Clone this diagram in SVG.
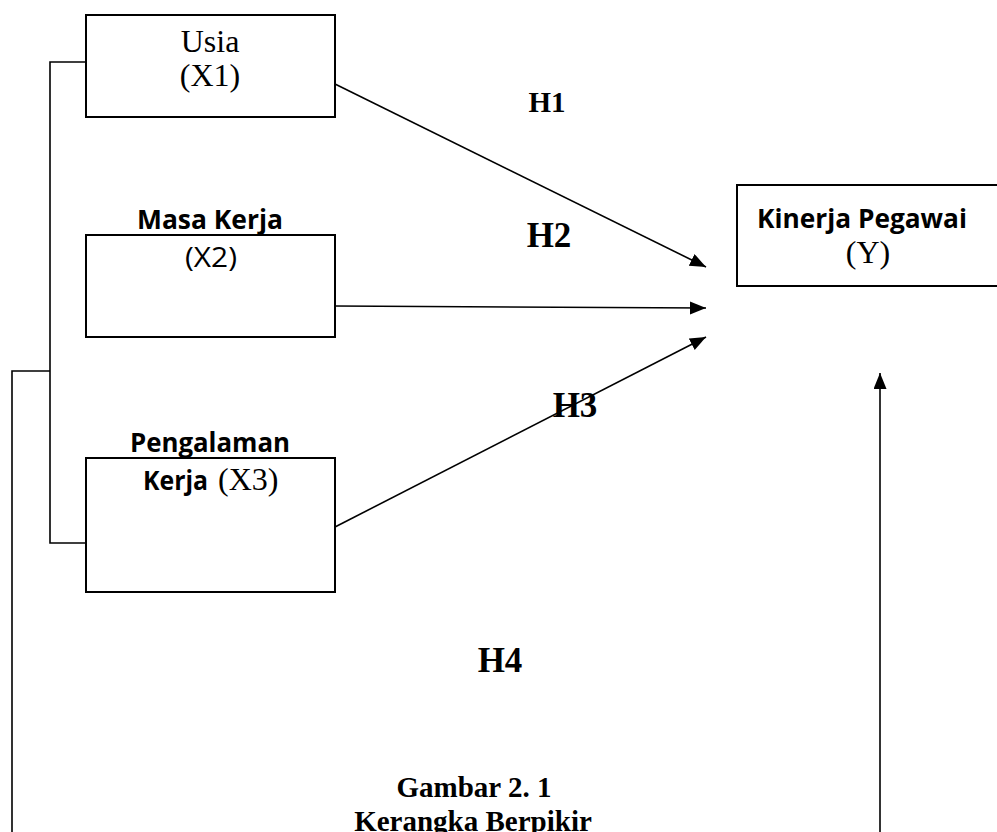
<svg xmlns="http://www.w3.org/2000/svg" width="997" height="832" viewBox="0 0 997 832">
<style>
.box{fill:#fff;stroke:#000;stroke-width:2}
.ln{fill:none;stroke:#000;stroke-width:1.6}
.serif{font-family:"Liberation Serif","Times New Roman",serif;fill:#000}
.sans{font-family:"Open Sans","Noto Sans",sans-serif;fill:#000}
.b{font-weight:bold}
.h{font-family:"Liberation Serif","Times New Roman",serif;font-weight:bold;fill:#000;text-anchor:middle}
</style>
<defs>
<marker id="ah" markerUnits="userSpaceOnUse" markerWidth="18" markerHeight="14" refX="16" refY="6.5" orient="auto">
<path d="M0,0 L16,6.5 L0,13 z" fill="#000"/>
</marker>
</defs>
<rect width="997" height="832" fill="#fff"/>
<g id="connectors">
<polyline class="ln" points="86,62 50,62 50,543 86,543"/>
<polyline class="ln" points="50,371 12,371 12,832"/>
<line class="ln" x1="335" y1="84" x2="706" y2="267" marker-end="url(#ah)"/>
<line class="ln" x1="335" y1="306" x2="706" y2="308" marker-end="url(#ah)"/>
<line class="ln" x1="335" y1="527" x2="706" y2="337" marker-end="url(#ah)"/>
<line class="ln" x1="880" y1="832" x2="880" y2="373" marker-end="url(#ah)"/>
</g>
<g id="x1">
<rect class="box" x="86" y="15" width="249" height="102"/>
<text class="serif" x="210" y="52" font-size="32" text-anchor="middle">Usia</text>
<text class="serif" x="210" y="86" font-size="32" text-anchor="middle">(X1)</text>
</g>
<g id="x2">
<rect class="box" x="86" y="235" width="249" height="102"/>
<text class="sans b" x="210" y="229" font-size="26" text-anchor="middle" textLength="146" lengthAdjust="spacingAndGlyphs">Masa Kerja</text>
<text class="sans" x="211" y="267" font-size="28" text-anchor="middle" textLength="52" lengthAdjust="spacingAndGlyphs">(X2)</text>
</g>
<g id="x3">
<rect class="box" x="86" y="458" width="249" height="134"/>
<text class="sans b" x="210" y="452" font-size="26" text-anchor="middle" textLength="160" lengthAdjust="spacingAndGlyphs">Pengalaman</text>
<text class="sans b" x="143" y="490" font-size="26" textLength="65" lengthAdjust="spacingAndGlyphs">Kerja</text>
<text class="serif" x="218" y="490" font-size="32">(X3)</text>
</g>
<g id="y">
<rect class="box" x="737" y="185" width="270" height="101"/>
<text class="sans b" x="862" y="228" font-size="27" text-anchor="middle" textLength="210" lengthAdjust="spacingAndGlyphs">Kinerja Pegawai</text>
<text class="serif" x="868" y="263" font-size="32" text-anchor="middle">(Y)</text>
</g>
<g id="labels">
<text class="h" x="547" y="112" font-size="29">H1</text>
<text class="h" x="549" y="247" font-size="35">H2</text>
<text class="h" x="575" y="417" font-size="35">H3</text>
<text class="h" x="500" y="672" font-size="35">H4</text>
<text class="h" x="474" y="797" font-size="29">Gambar 2. 1</text>
<text class="h" x="473" y="831" font-size="29">Kerangka Berpikir</text>
</g>
</svg>
